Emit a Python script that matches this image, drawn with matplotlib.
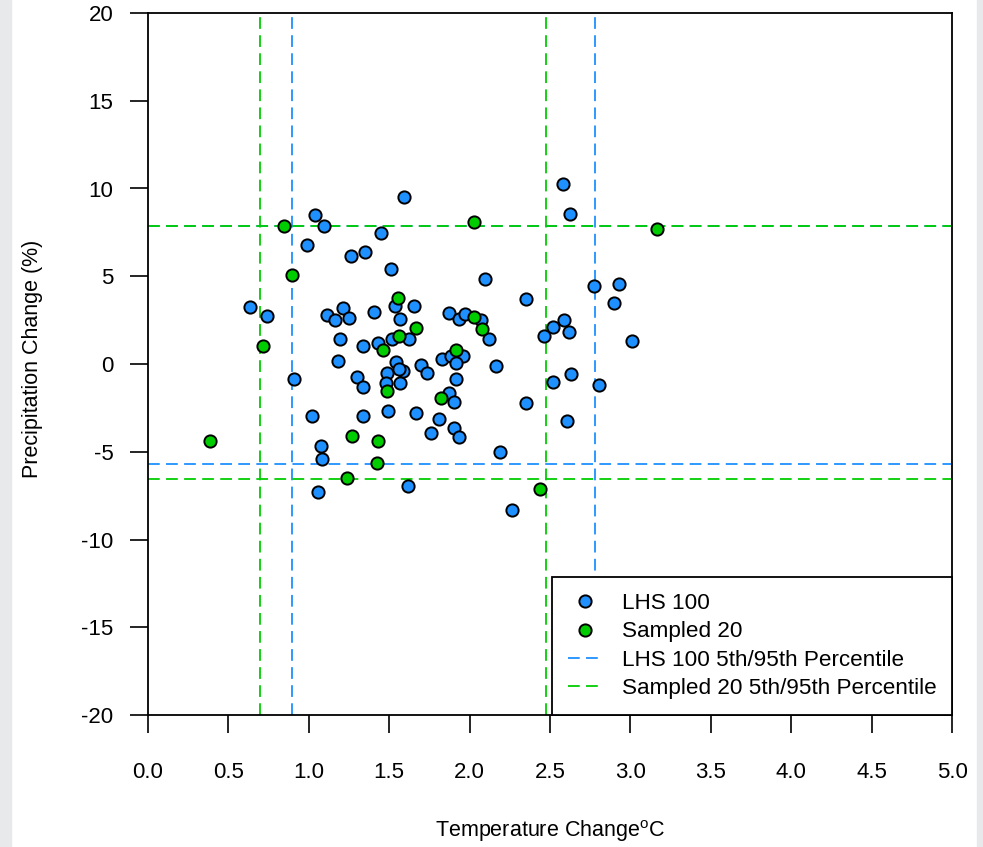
import matplotlib
matplotlib.use("Agg")
import matplotlib.pyplot as plt
from matplotlib.patches import Rectangle

plt.rcParams['font.family'] = ['Liberation Sans', 'DejaVu Sans']
plt.rcParams['mathtext.fontset'] = 'custom'
plt.rcParams['mathtext.rm'] = 'Liberation Sans'

# LHS 100 points (visible ones)
lhs_temp = [1.589, 1.037, 1.093, 1.448, 0.991, 1.263, 1.348, 1.512, 1.533, 1.655,
            0.633, 0.741, 1.114, 1.212, 1.164, 1.249, 1.404, 1.570, 1.517, 1.622,
            1.197, 1.336, 1.429, 1.184, 1.543, 1.696, 1.830, 1.299, 1.484, 1.584,
            1.562, 1.481, 1.565, 1.336, 1.734, 0.910, 1.022, 1.340, 1.493, 1.669,
            1.811, 1.759, 1.077, 1.081, 1.058, 1.614, 2.581, 2.626, 2.097, 2.352,
            2.774, 2.929, 2.900, 1.869, 1.931, 1.973, 2.074, 2.120, 2.589, 2.518,
            2.620, 2.461, 3.008, 1.886, 1.958, 1.917, 2.164, 1.913, 1.871, 1.901,
            1.904, 1.934, 2.352, 2.190, 2.518, 2.630, 2.802, 2.603, 2.263]
lhs_precip = [9.53, 8.49, 7.88, 7.46, 6.76, 6.13, 6.36, 5.41, 3.32, 3.32,
              3.24, 2.71, 2.80, 3.19, 2.48, 2.63, 2.98, 2.54, 1.45, 1.45,
              1.45, 1.00, 1.21, 0.18, 0.09, -0.05, 0.28, -0.73, -0.50, -0.42,
              -0.30, -1.07, -1.07, -1.30, -0.50, -0.83, -2.94, -2.97, -2.67, -2.77,
              -3.12, -3.95, -4.68, -5.42, -7.29, -6.98, 10.27, 8.55, 4.87, 3.73,
              4.46, 4.53, 3.49, 2.92, 2.58, 2.86, 2.48, 1.45, 2.50, 2.10,
              1.85, 1.60, 1.31, 0.45, 0.48, 0.03, -0.10, -0.83, -1.65, -2.14,
              -3.62, -4.14, -2.25, -5.01, -1.00, -0.58, -1.19, -3.26, -8.33]

# Sampled 20
samp_temp = [0.844, 2.030, 3.166, 0.896, 1.553, 1.665, 1.562, 0.714, 1.459, 2.027,
             2.077, 1.917, 1.485, 1.823, 0.388, 1.269, 1.428, 1.427, 1.240, 2.439]
samp_precip = [7.88, 8.07, 7.67, 5.09, 3.77, 2.04, 1.61, 1.00, 0.79, 2.69,
               2.02, 0.79, -1.53, -1.93, -4.38, -4.09, -4.41, -5.65, -6.49, -7.10]

# 5th / 95th percentiles
lhs_temp_pct = [0.896, 2.778]
lhs_precip_pct = [-5.70, 7.88]
samp_temp_pct = [0.697, 2.477]
samp_precip_pct = [-6.53, 7.88]

xticks = [0.0, 0.5, 1.0, 1.5, 2.0, 2.5, 3.0, 3.5, 4.0, 4.5, 5.0]
yticks = [-20, -15, -10, -5, 0, 5, 10, 15, 20]

blue = '#1E90FF'
green = '#00CD00'
dash = (6.5, 3.5)
lw = 1.3

fig = plt.figure(figsize=(9.83, 8.47), dpi=100)
ax = fig.add_axes([148/983, 1-715/847, 804/983, 702/847])

for v in lhs_temp_pct:
    ax.axvline(v, color=blue, lw=lw, dashes=dash, zorder=1)
for v in samp_temp_pct:
    ax.axvline(v, color=green, lw=lw, dashes=dash, zorder=1)
for v in lhs_precip_pct:
    ax.axhline(v, color=blue, lw=lw, dashes=dash, zorder=1)
for v in samp_precip_pct:
    ax.axhline(v, color=green, lw=lw, dashes=dash, zorder=1)

ax.plot(lhs_temp, lhs_precip, 'o', ms=8.8, mfc=blue, mec='black', mew=1.4,
        linestyle='none', label='LHS 100', zorder=3)
ax.plot(samp_temp, samp_precip, 'o', ms=8.8, mfc=green, mec='black', mew=1.4,
        linestyle='none', label='Sampled 20', zorder=4)
ax.plot([], [], color=blue, lw=lw, dashes=dash, label='LHS 100 5th/95th Percentile')
ax.plot([], [], color=green, lw=lw, dashes=dash, label='Sampled 20 5th/95th Percentile')

ax.set_xlim(0, 5)
ax.set_ylim(-20, 20)
ax.set_xticks(xticks)
ax.set_xticklabels(['%.1f' % t for t in xticks])
ax.set_yticks(yticks)
ax.set_yticklabels([str(t) for t in yticks])
ax.tick_params(axis='x', direction='out', length=13, width=1.2, pad=21, labelsize=16)
ax.tick_params(axis='y', direction='out', length=13, width=1.2, pad=12, labelsize=16)
for s in ax.spines.values():
    s.set_linewidth(1.3)

ax.set_xlabel(r'Temperature Change$^{\mathrm{o}}$C', fontsize=15.5)
ax.xaxis.set_label_coords(0.5, -0.147)
ax.set_ylabel('Precipitation Change (%)', fontsize=15.5)
ax.yaxis.set_label_coords(-0.131, 0.508)

leg = ax.legend(loc='lower right', borderaxespad=0, fancybox=False, framealpha=1,
                edgecolor='black', fontsize=16.2, handlelength=1.55, handletextpad=0.85,
                labelspacing=0.33, borderpad=0.7, numpoints=1)
leg.get_frame().set_linewidth(1.3)

fig.add_artist(Rectangle((0, 0), 11/983, 1, transform=fig.transFigure,
                         color='#E8E9EB', zorder=0))
fig.add_artist(Rectangle((977/983, 0), 6/983, 1, transform=fig.transFigure,
                         color='#E8E9EB', zorder=0))

fig.savefig('out.png', dpi=100)
